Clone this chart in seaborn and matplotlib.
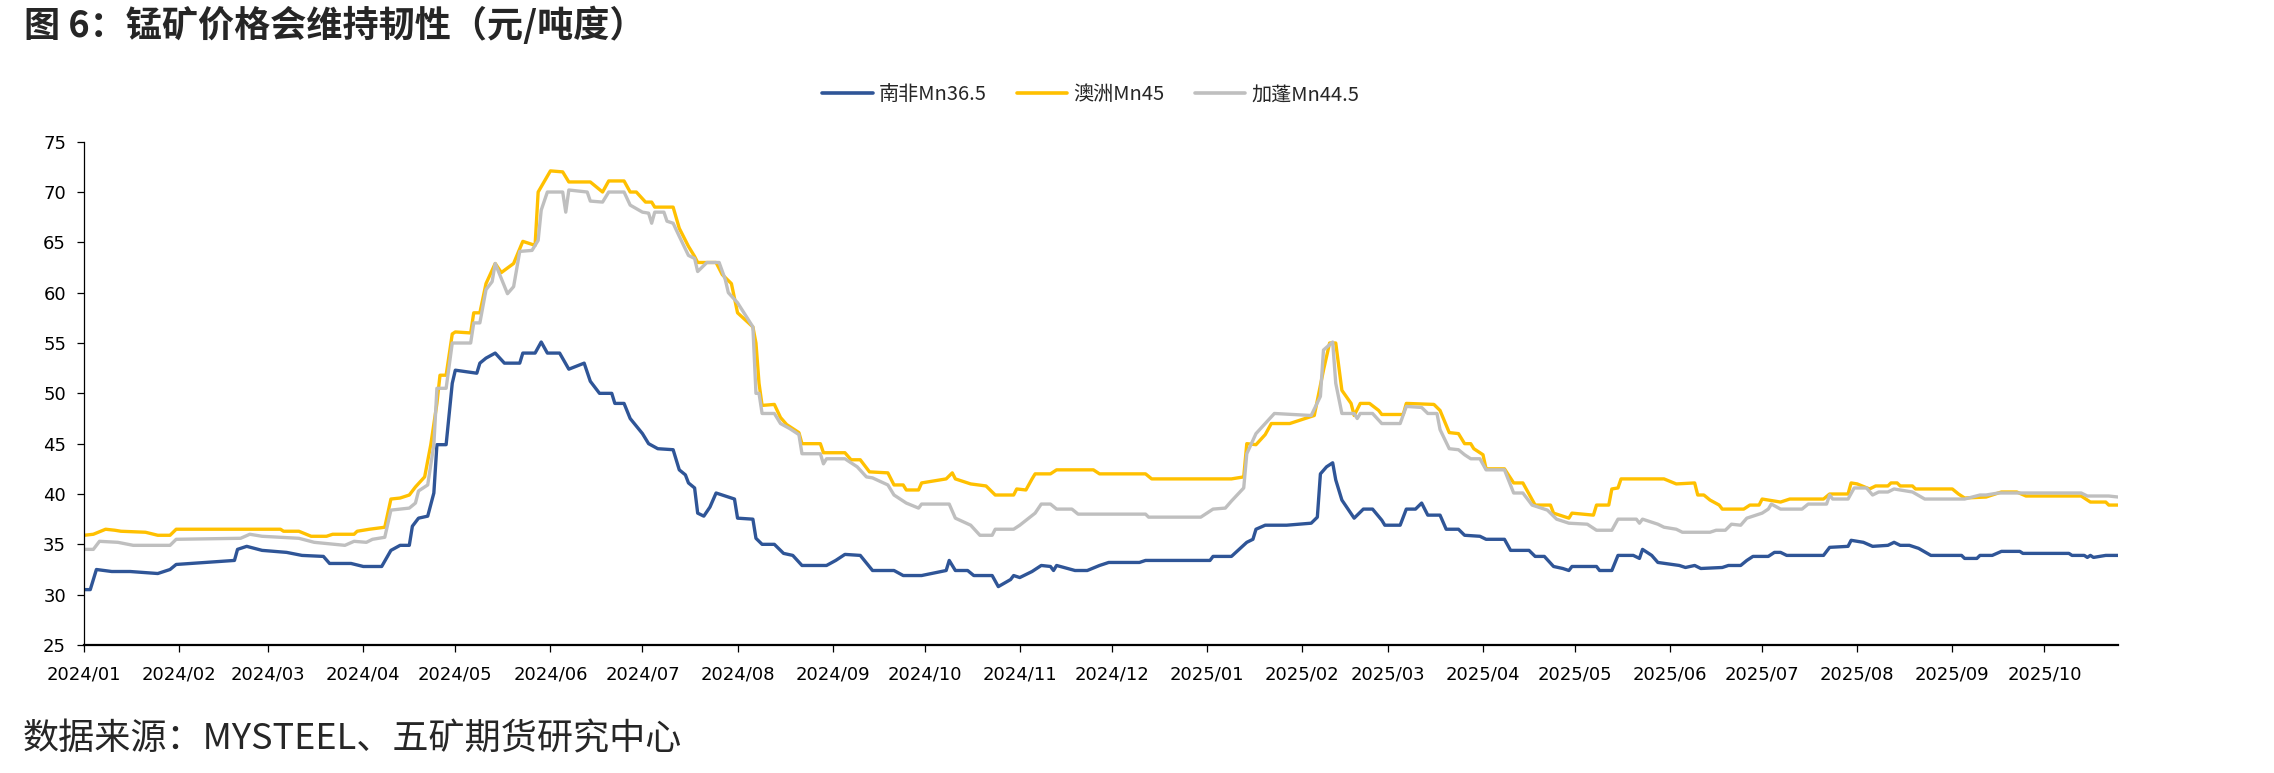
import numpy as np
import pandas as pd
import matplotlib
matplotlib.use("Agg")
import matplotlib.pyplot as plt
import matplotlib.dates as mdates
from matplotlib.lines import Line2D
import seaborn as sns

# 南非Mn36.5
sa_dates = ["2024-01-01", "2024-01-03", "2024-01-05", "2024-01-10", "2024-01-16", "2024-01-25", "2024-01-29", "2024-01-31",
            "2024-02-19", "2024-02-20", "2024-02-23", "2024-02-28", "2024-03-07", "2024-03-12", "2024-03-19", "2024-03-21",
            "2024-03-28", "2024-04-01", "2024-04-07", "2024-04-10", "2024-04-13", "2024-04-16", "2024-04-17", "2024-04-19",
            "2024-04-22", "2024-04-24", "2024-04-25", "2024-04-28", "2024-04-30", "2024-05-01", "2024-05-08", "2024-05-09",
            "2024-05-11", "2024-05-14", "2024-05-17", "2024-05-22", "2024-05-23", "2024-05-27", "2024-05-29", "2024-05-31",
            "2024-06-04", "2024-06-07", "2024-06-12", "2024-06-14", "2024-06-17", "2024-06-21", "2024-06-22", "2024-06-25",
            "2024-06-27", "2024-07-01", "2024-07-03", "2024-07-06", "2024-07-11", "2024-07-13", "2024-07-15", "2024-07-16",
            "2024-07-18", "2024-07-19", "2024-07-21", "2024-07-23", "2024-07-25", "2024-07-27", "2024-07-31", "2024-08-01",
            "2024-08-06", "2024-08-07", "2024-08-09", "2024-08-13", "2024-08-16", "2024-08-19", "2024-08-22", "2024-08-30",
            "2024-09-02", "2024-09-05", "2024-09-10", "2024-09-14", "2024-09-21", "2024-09-24", "2024-09-30", "2024-10-08",
            "2024-10-09", "2024-10-11", "2024-10-15", "2024-10-17", "2024-10-23", "2024-10-25", "2024-10-29", "2024-10-30",
            "2024-11-01", "2024-11-05", "2024-11-08", "2024-11-11", "2024-11-12", "2024-11-13", "2024-11-19", "2024-11-23",
            "2024-11-27", "2024-11-30", "2024-12-10", "2024-12-12", "2025-01-02", "2025-01-03", "2025-01-09", "2025-01-14",
            "2025-01-16", "2025-01-17", "2025-01-20", "2025-01-27", "2025-02-04", "2025-02-06", "2025-02-07", "2025-02-09",
            "2025-02-11", "2025-02-12", "2025-02-14", "2025-02-18", "2025-02-21", "2025-02-24", "2025-02-27", "2025-02-28",
            "2025-03-05", "2025-03-07", "2025-03-10", "2025-03-12", "2025-03-14", "2025-03-18", "2025-03-20", "2025-03-24",
            "2025-03-26", "2025-03-31", "2025-04-02", "2025-04-08", "2025-04-10", "2025-04-16", "2025-04-18", "2025-04-21",
            "2025-04-24", "2025-04-27", "2025-04-29", "2025-04-30", "2025-05-08", "2025-05-09", "2025-05-13", "2025-05-15",
            "2025-05-20", "2025-05-22", "2025-05-23", "2025-05-26", "2025-05-28", "2025-06-04", "2025-06-06", "2025-06-09",
            "2025-06-11", "2025-06-18", "2025-06-20", "2025-06-24", "2025-06-26", "2025-06-28", "2025-07-03", "2025-07-05",
            "2025-07-07", "2025-07-09", "2025-07-21", "2025-07-23", "2025-07-29", "2025-07-30", "2025-08-03", "2025-08-06",
            "2025-08-11", "2025-08-13", "2025-08-15", "2025-08-18", "2025-08-21", "2025-08-25", "2025-09-04", "2025-09-05",
            "2025-09-09", "2025-09-10", "2025-09-14", "2025-09-17", "2025-09-23", "2025-09-24", "2025-10-09", "2025-10-10",
            "2025-10-14", "2025-10-15", "2025-10-16", "2025-10-17", "2025-10-21", "2025-10-25"]
sa_vals = [30.5, 30.5, 32.5, 32.3, 32.3, 32.1, 32.5, 33.0,
           33.4, 34.5, 34.8, 34.4, 34.2, 33.9, 33.8, 33.1,
           33.1, 32.8, 32.8, 34.4, 34.9, 34.9, 36.8, 37.6,
           37.8, 40.1, 44.9, 44.9, 51.0, 52.3, 52.0, 53.0,
           53.5, 54.0, 53.0, 53.0, 54.0, 54.0, 55.1, 54.0,
           54.0, 52.4, 53.0, 51.2, 50.0, 50.0, 49.0, 49.0,
           47.5, 46.0, 45.0, 44.5, 44.4, 42.4, 41.9, 41.1,
           40.6, 38.1, 37.8, 38.7, 40.1, 39.9, 39.5, 37.6,
           37.5, 35.6, 35.0, 35.0, 34.1, 33.9, 32.9, 32.9,
           33.4, 34.0, 33.9, 32.4, 32.4, 31.9, 31.9, 32.4,
           33.4, 32.4, 32.4, 31.9, 31.9, 30.8, 31.5, 31.9,
           31.7, 32.3, 32.9, 32.8, 32.4, 32.9, 32.4, 32.4,
           32.9, 33.2, 33.2, 33.4, 33.4, 33.8, 33.8, 35.2,
           35.5, 36.5, 36.9, 36.9, 37.1, 37.7, 42.0, 42.7,
           43.1, 41.4, 39.4, 37.6, 38.5, 38.5, 37.4, 36.9,
           36.9, 38.5, 38.5, 39.1, 37.9, 37.9, 36.5, 36.5,
           35.9, 35.8, 35.5, 35.5, 34.4, 34.4, 33.8, 33.8,
           32.8, 32.6, 32.4, 32.8, 32.8, 32.4, 32.4, 33.9,
           33.9, 33.6, 34.5, 33.9, 33.2, 32.9, 32.7, 32.9,
           32.6, 32.7, 32.9, 32.9, 33.4, 33.8, 33.8, 34.2,
           34.2, 33.9, 33.9, 34.7, 34.8, 35.4, 35.2, 34.8,
           34.9, 35.2, 34.9, 34.9, 34.6, 33.9, 33.9, 33.6,
           33.6, 33.9, 33.9, 34.3, 34.3, 34.1, 34.1, 33.9,
           33.9, 33.7, 33.9, 33.7, 33.9, 33.9]

# 澳洲Mn45
au_dates = ["2024-01-01", "2024-01-04", "2024-01-08", "2024-01-11", "2024-01-13", "2024-01-21", "2024-01-25", "2024-01-29",
            "2024-01-31", "2024-03-05", "2024-03-06", "2024-03-11", "2024-03-15", "2024-03-20", "2024-03-22", "2024-03-29",
            "2024-03-30", "2024-04-03", "2024-04-08", "2024-04-10", "2024-04-13", "2024-04-16", "2024-04-18", "2024-04-21",
            "2024-04-23", "2024-04-25", "2024-04-26", "2024-04-28", "2024-04-30", "2024-05-01", "2024-05-06", "2024-05-07",
            "2024-05-09", "2024-05-11", "2024-05-14", "2024-05-16", "2024-05-20", "2024-05-23", "2024-05-27", "2024-05-28",
            "2024-06-01", "2024-06-05", "2024-06-07", "2024-06-14", "2024-06-18", "2024-06-20", "2024-06-25", "2024-06-27",
            "2024-06-29", "2024-07-02", "2024-07-04", "2024-07-05", "2024-07-11", "2024-07-13", "2024-07-16", "2024-07-18",
            "2024-07-19", "2024-07-25", "2024-07-27", "2024-07-30", "2024-08-01", "2024-08-06", "2024-08-07", "2024-08-08",
            "2024-08-09", "2024-08-13", "2024-08-15", "2024-08-17", "2024-08-21", "2024-08-22", "2024-08-28", "2024-08-29",
            "2024-09-05", "2024-09-07", "2024-09-10", "2024-09-11", "2024-09-13", "2024-09-19", "2024-09-21", "2024-09-24",
            "2024-09-25", "2024-09-29", "2024-09-30", "2024-10-08", "2024-10-10", "2024-10-11", "2024-10-16", "2024-10-21",
            "2024-10-24", "2024-10-30", "2024-10-31", "2024-11-03", "2024-11-05", "2024-11-06", "2024-11-11", "2024-11-13",
            "2024-11-25", "2024-11-27", "2024-12-12", "2024-12-14", "2025-01-09", "2025-01-13", "2025-01-14", "2025-01-17",
            "2025-01-20", "2025-01-22", "2025-01-28", "2025-02-05", "2025-02-08", "2025-02-10", "2025-02-12", "2025-02-14",
            "2025-02-17", "2025-02-18", "2025-02-20", "2025-02-23", "2025-02-26", "2025-02-27", "2025-03-06", "2025-03-07",
            "2025-03-16", "2025-03-18", "2025-03-21", "2025-03-24", "2025-03-26", "2025-03-28", "2025-03-29", "2025-04-01",
            "2025-04-02", "2025-04-08", "2025-04-11", "2025-04-14", "2025-04-18", "2025-04-23", "2025-04-24", "2025-04-29",
            "2025-04-30", "2025-05-07", "2025-05-08", "2025-05-12", "2025-05-13", "2025-05-15", "2025-05-16", "2025-05-30",
            "2025-06-03", "2025-06-09", "2025-06-10", "2025-06-12", "2025-06-14", "2025-06-17", "2025-06-18", "2025-06-25",
            "2025-06-27", "2025-06-30", "2025-07-01", "2025-07-07", "2025-07-10", "2025-07-21", "2025-07-23", "2025-07-29",
            "2025-07-30", "2025-08-01", "2025-08-05", "2025-08-07", "2025-08-11", "2025-08-12", "2025-08-14", "2025-08-15",
            "2025-08-19", "2025-08-20", "2025-09-01", "2025-09-03", "2025-09-05", "2025-09-12", "2025-09-17", "2025-09-22",
            "2025-09-25", "2025-10-13", "2025-10-16", "2025-10-21", "2025-10-22", "2025-10-25"]
au_vals = [35.9, 36.0, 36.5, 36.4, 36.3, 36.2, 35.9, 35.9,
           36.5, 36.5, 36.3, 36.3, 35.8, 35.8, 36.0, 36.0,
           36.3, 36.5, 36.7, 39.5, 39.6, 39.9, 40.7, 41.7,
           44.9, 49.0, 51.8, 51.8, 55.9, 56.1, 56.0, 58.0,
           58.0, 60.9, 62.9, 62.0, 62.9, 65.1, 64.7, 70.0,
           72.1, 72.0, 71.0, 71.0, 70.0, 71.1, 71.1, 70.0,
           70.0, 69.0, 69.0, 68.5, 68.5, 66.4, 64.6, 63.6,
           63.0, 63.0, 61.8, 60.9, 58.0, 56.6, 55.0, 51.0,
           48.8, 48.9, 47.6, 46.9, 46.1, 45.0, 45.0, 44.1,
           44.1, 43.4, 43.4, 43.0, 42.2, 42.1, 40.9, 40.9,
           40.4, 40.4, 41.1, 41.5, 42.1, 41.5, 41.0, 40.8,
           39.9, 39.9, 40.5, 40.4, 41.5, 42.0, 42.0, 42.4,
           42.4, 42.0, 42.0, 41.5, 41.5, 41.7, 45.0, 44.9,
           45.9, 47.0, 47.0, 47.8, 52.3, 55.0, 55.0, 50.3,
           49.0, 47.8, 49.0, 49.0, 48.3, 47.9, 47.9, 49.0,
           48.9, 48.3, 46.1, 46.0, 45.0, 45.0, 44.5, 43.9,
           42.5, 42.5, 41.1, 41.1, 38.9, 38.9, 38.1, 37.6,
           38.1, 37.9, 38.9, 38.9, 40.5, 40.6, 41.5, 41.5,
           41.0, 41.1, 39.9, 39.9, 39.4, 38.9, 38.5, 38.5,
           38.9, 38.9, 39.5, 39.2, 39.5, 39.5, 40.0, 40.0,
           41.1, 41.0, 40.5, 40.8, 40.8, 41.1, 41.1, 40.8,
           40.8, 40.5, 40.5, 40.0, 39.6, 39.7, 40.2, 40.2,
           39.8, 39.8, 39.2, 39.2, 38.9, 38.9]

# 加蓬Mn44.5
ga_dates = ["2024-01-01", "2024-01-04", "2024-01-06", "2024-01-12", "2024-01-17", "2024-01-29", "2024-01-31", "2024-02-21",
            "2024-02-24", "2024-02-28", "2024-03-05", "2024-03-11", "2024-03-16", "2024-03-26", "2024-03-29", "2024-04-02",
            "2024-04-04", "2024-04-08", "2024-04-10", "2024-04-16", "2024-04-18", "2024-04-19", "2024-04-22", "2024-04-24",
            "2024-04-25", "2024-04-28", "2024-04-30", "2024-05-06", "2024-05-07", "2024-05-09", "2024-05-11", "2024-05-13",
            "2024-05-14", "2024-05-16", "2024-05-18", "2024-05-20", "2024-05-22", "2024-05-26", "2024-05-28", "2024-05-29",
            "2024-05-31", "2024-06-05", "2024-06-06", "2024-06-07", "2024-06-13", "2024-06-14", "2024-06-18", "2024-06-20",
            "2024-06-25", "2024-06-27", "2024-07-01", "2024-07-03", "2024-07-04", "2024-07-05", "2024-07-08", "2024-07-09",
            "2024-07-11", "2024-07-13", "2024-07-16", "2024-07-18", "2024-07-19", "2024-07-22", "2024-07-26", "2024-07-28",
            "2024-07-29", "2024-08-01", "2024-08-06", "2024-08-07", "2024-08-08", "2024-08-09", "2024-08-13", "2024-08-15",
            "2024-08-18", "2024-08-21", "2024-08-22", "2024-08-28", "2024-08-29", "2024-08-30", "2024-09-05", "2024-09-09",
            "2024-09-12", "2024-09-14", "2024-09-19", "2024-09-21", "2024-09-25", "2024-09-29", "2024-09-30", "2024-10-09",
            "2024-10-11", "2024-10-16", "2024-10-19", "2024-10-23", "2024-10-24", "2024-10-30", "2024-11-01", "2024-11-06",
            "2024-11-08", "2024-11-11", "2024-11-13", "2024-11-18", "2024-11-20", "2024-12-12", "2024-12-13", "2024-12-30",
            "2025-01-01", "2025-01-03", "2025-01-07", "2025-01-09", "2025-01-13", "2025-01-14", "2025-01-17", "2025-01-20",
            "2025-01-23", "2025-02-04", "2025-02-07", "2025-02-08", "2025-02-11", "2025-02-12", "2025-02-14", "2025-02-18",
            "2025-02-19", "2025-02-20", "2025-02-24", "2025-02-27", "2025-03-05", "2025-03-07", "2025-03-12", "2025-03-14",
            "2025-03-17", "2025-03-18", "2025-03-21", "2025-03-24", "2025-03-26", "2025-03-28", "2025-03-31", "2025-04-02",
            "2025-04-08", "2025-04-11", "2025-04-14", "2025-04-17", "2025-04-22", "2025-04-25", "2025-04-29", "2025-05-05",
            "2025-05-08", "2025-05-13", "2025-05-15", "2025-05-21", "2025-05-22", "2025-05-23", "2025-05-28", "2025-05-30",
            "2025-06-03", "2025-06-05", "2025-06-14", "2025-06-16", "2025-06-19", "2025-06-21", "2025-06-24", "2025-06-26",
            "2025-06-28", "2025-07-01", "2025-07-03", "2025-07-04", "2025-07-07", "2025-07-14", "2025-07-16", "2025-07-22",
            "2025-07-23", "2025-07-24", "2025-07-29", "2025-07-31", "2025-08-04", "2025-08-06", "2025-08-08", "2025-08-11",
            "2025-08-13", "2025-08-19", "2025-08-23", "2025-09-05", "2025-09-10", "2025-09-12", "2025-09-16", "2025-10-13",
            "2025-10-15", "2025-10-22", "2025-10-25"]
ga_vals = [34.5, 34.5, 35.3, 35.2, 34.9, 34.9, 35.5, 35.6,
           36.0, 35.8, 35.7, 35.6, 35.2, 34.9, 35.3, 35.2,
           35.5, 35.7, 38.4, 38.6, 39.1, 40.3, 40.9, 44.9,
           50.5, 50.5, 55.0, 55.0, 57.0, 57.0, 60.3, 61.1,
           62.9, 61.4, 59.9, 60.6, 64.1, 64.2, 65.2, 68.2,
           70.0, 70.0, 68.0, 70.2, 70.0, 69.1, 69.0, 70.0,
           70.0, 68.7, 68.0, 67.9, 66.9, 68.0, 68.0, 67.1,
           66.9, 65.6, 63.7, 63.4, 62.1, 63.0, 63.0, 61.3,
           60.0, 59.0, 56.6, 50.0, 50.0, 48.0, 48.0, 47.0,
           46.5, 45.9, 44.0, 44.0, 43.0, 43.5, 43.5, 42.7,
           41.7, 41.6, 40.9, 39.9, 39.1, 38.6, 39.0, 39.0,
           37.6, 36.9, 35.9, 35.9, 36.5, 36.5, 36.9, 38.1,
           39.0, 39.0, 38.5, 38.5, 38.0, 38.0, 37.7, 37.7,
           38.1, 38.5, 38.6, 39.3, 40.6, 44.0, 46.0, 47.0,
           48.0, 47.8, 49.7, 54.3, 55.1, 51.0, 48.0, 48.0,
           47.5, 48.0, 48.0, 47.0, 47.0, 48.7, 48.6, 48.0,
           48.0, 46.4, 44.5, 44.4, 43.9, 43.5, 43.5, 42.4,
           42.4, 40.1, 40.1, 38.9, 38.4, 37.5, 37.1, 37.0,
           36.4, 36.4, 37.5, 37.5, 37.1, 37.5, 37.0, 36.7,
           36.5, 36.2, 36.2, 36.4, 36.4, 37.0, 36.9, 37.6,
           37.8, 38.1, 38.5, 39.0, 38.5, 38.5, 39.0, 39.0,
           39.9, 39.5, 39.5, 40.6, 40.6, 39.9, 40.2, 40.2,
           40.5, 40.2, 39.5, 39.5, 39.9, 39.9, 40.1, 40.1,
           39.8, 39.8, 39.7]

series_names = ["南非Mn36.5", "澳洲Mn45", "加蓬Mn44.5"]
colors = ["#2F5597", "#FFC000", "#BFBFBF"]
title = "图 6：锰矿价格会维持韧性（元/吨度）"
source = "数据来源：MYSTEEL、五矿期货研究中心"

sns.set_style("ticks")
plt.rcParams["font.family"] = ["DejaVu Sans", "Noto Sans CJK SC"]
cjk = ["Noto Sans CJK SC", "DejaVu Sans"]

frames = []
for name, d, v in zip(series_names, [sa_dates, au_dates, ga_dates], [sa_vals, au_vals, ga_vals]):
    frames.append(pd.DataFrame({"date": pd.to_datetime(d), "value": v, "series": name}))
df = pd.concat(frames, ignore_index=True)

fig, ax = plt.subplots(figsize=(22.74, 7.73), dpi=100)
fig.subplots_adjust(left=0.037, right=0.9314, top=0.8167, bottom=0.1656)

sns.lineplot(data=df, x="date", y="value", hue="series", hue_order=series_names,
             palette=colors, estimator=None, sort=False, linewidth=2.4, legend=False, ax=ax)

ax.set_xlim(pd.Timestamp("2024-01-01"), pd.Timestamp("2025-10-25"))
ax.set_ylim(25, 75)
ax.set_yticks(np.arange(25, 80, 5))
ax.xaxis.set_major_locator(mdates.MonthLocator())
ax.xaxis.set_major_formatter(mdates.DateFormatter("%Y/%m"))
ax.set_xlabel("")
ax.set_ylabel("")

for s in ["top", "right"]:
    ax.spines[s].set_visible(False)
ax.spines["left"].set_linewidth(0.9)
ax.spines["bottom"].set_linewidth(1.6)
ax.spines["left"].set_color("black")
ax.spines["bottom"].set_color("black")
ax.tick_params(axis="both", direction="out", length=5, width=0.9, labelsize=13, colors="black")
ax.tick_params(axis="x", pad=10)
ax.tick_params(axis="y", pad=8)

handles = [Line2D([], [], color=c, lw=2.6) for c in colors]
ax.legend(handles, series_names, loc="center", bbox_to_anchor=(0.495, 1.093), ncol=3,
          frameon=False, prop={"family": cjk, "size": 14.5},
          handlelength=2.5, handletextpad=0.3, columnspacing=1.5)

fig.text(0.0106, 0.966, title, fontsize=26, fontweight="bold", family=cjk, ha="left", va="center")
fig.text(0.0101, 0.043, source, fontsize=26, family=cjk, ha="left", va="center")

fig.savefig("out.png", dpi=100)
